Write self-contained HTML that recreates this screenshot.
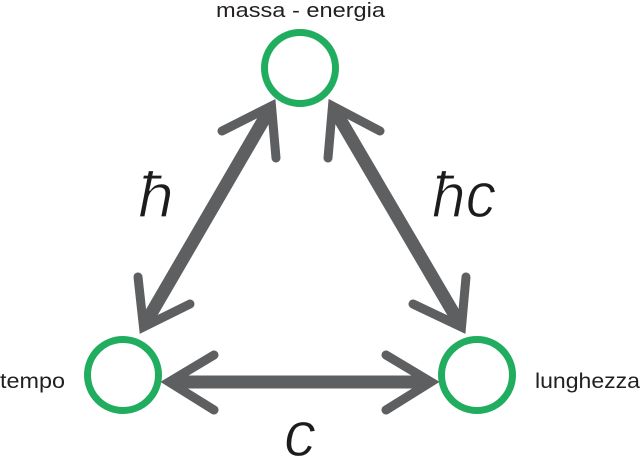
<!DOCTYPE html>
<html>
<head>
<meta charset="utf-8">
<style>
  html, body { margin: 0; padding: 0; background: #ffffff; }
  body { width: 640px; height: 460px; overflow: hidden; }
  svg { display: block; }
  .lbl { font-family: "Liberation Sans", sans-serif; fill: #231f20; }
  .sym { font-family: "Liberation Sans", sans-serif; font-style: italic; fill: #1d1b1c; stroke: #ffffff; stroke-width: 1.2; }
</style>
</head>
<body>
<svg width="640" height="460" viewBox="0 0 640 460" xmlns="http://www.w3.org/2000/svg">
  <!-- arrows -->
  <g stroke="#5e5f61" fill="none">
    <!-- bottom -->
    <line x1="173" y1="382" x2="426" y2="382" stroke-width="13"/>
    <polyline points="214,355 169,382 214,410" stroke-width="9" stroke-linejoin="miter" stroke-linecap="round"/>
    <polyline points="386,355 431,382 386,410" stroke-width="9" stroke-linejoin="miter" stroke-linecap="round"/>
    <!-- left diagonal -->
    <line x1="270" y1="109" x2="145" y2="324" stroke-width="13"/>
    <polyline points="222,131 271.5,106 276,158" stroke-width="9" stroke-linejoin="miter" stroke-linecap="round"/>
    <polyline points="138,277 143.5,327 190,304" stroke-width="9" stroke-linejoin="miter" stroke-linecap="round"/>
    <!-- right diagonal -->
    <line x1="334" y1="109" x2="460" y2="324" stroke-width="13"/>
    <polyline points="380,131 332.5,106 328,158" stroke-width="9" stroke-linejoin="miter" stroke-linecap="round"/>
    <polyline points="466,277 461.5,327 413,304" stroke-width="9" stroke-linejoin="miter" stroke-linecap="round"/>
  </g>
  <!-- nodes -->
  <g stroke="#21ad60" stroke-width="7" fill="#ffffff">
    <circle cx="300" cy="68" r="35.5"/>
    <circle cx="123" cy="375" r="35.5"/>
    <circle cx="477" cy="375" r="35.5"/>
  </g>
  <!-- labels -->
  <text class="lbl" x="216" y="17" font-size="20" textLength="169" lengthAdjust="spacingAndGlyphs">massa - energia</text>
  <text class="lbl" x="0" y="388" font-size="21" textLength="65" lengthAdjust="spacingAndGlyphs">tempo</text>
  <text class="lbl" x="535" y="388" font-size="21" textLength="105" lengthAdjust="spacingAndGlyphs">lunghezza</text>
  <!-- symbols -->
  <text class="sym" x="156" y="217" font-size="64" text-anchor="middle">ħ</text>
  <text class="sym" x="432" y="217" font-size="64" textLength="64" lengthAdjust="spacingAndGlyphs">ħc</text>
  <text class="sym" x="300" y="456" font-size="64" text-anchor="middle">c</text>
</svg>
</body>
</html>
